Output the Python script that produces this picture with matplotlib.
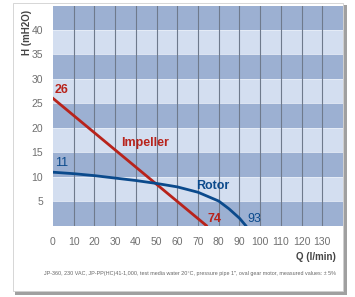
import numpy as np
from matplotlib import pyplot as plt
from matplotlib.patches import Rectangle

plt.rcParams['font.family'] = ['Liberation Sans Narrow', 'Liberation Sans', 'DejaVu Sans']

# pump curves
impeller_q = [0, 74]
impeller_h = [26, 0]
rotor_q = [0, 10, 20, 30, 40, 50, 60, 70, 80, 85, 90, 93]
rotor_h = [10.9, 10.6, 10.2, 9.7, 9.2, 8.6, 7.9, 6.8, 5.0, 3.4, 1.5, 0]

x_ticks = list(range(0, 140, 10))
y_ticks = [5, 10, 15, 20, 25, 30, 35, 40]
footnote = ("JP-360, 230 VAC, JP-PP(HC)41-1,000, test media water 20°C, "
            "pressure pipe 1\", oval gear motor, measured values: ± 5%")

red = '#b8231b'
blue = '#0b4a8c'
dark_band = '#9cb0d2'
light_band = '#d3def0'

fig = plt.figure(figsize=(3.55, 2.97), dpi=100)
fig.patch.set_facecolor('white')

# card with drop shadow
fig.patches.append(Rectangle((15 / 355, 1 - 295 / 297), 332 / 355, 290 / 297,
                             transform=fig.transFigure, facecolor='#a0a0a0',
                             edgecolor='none', zorder=-3))
fig.patches.append(Rectangle((13 / 355, 1 - 291 / 297), 330 / 355, 288 / 297,
                             transform=fig.transFigure, facecolor='white',
                             edgecolor='#d0d0d0', linewidth=0.6, zorder=-2))

ax = fig.add_axes([53 / 355, 71.5 / 297, 290 / 355, 220 / 297])
ax.set_xlim(0, 140)
ax.set_ylim(0, 45)

for y0 in range(0, 45, 5):
    c = dark_band if (y0 // 5) % 2 == 0 else light_band
    ax.axhspan(y0, y0 + 5, color=c, lw=0, zorder=0)
    if y0 > 0:
        ax.axhline(y0, color='#e8eef8', lw=0.6, zorder=0.5)
for xv in x_ticks[1:]:
    ax.axvline(xv, color='#6f7a8c', lw=0.8, zorder=1)

ax.plot(impeller_q, impeller_h, color=red, lw=2, zorder=3)
ax.plot(rotor_q, rotor_h, color=blue, lw=2, zorder=3)

ax.text(0.6, 27.2, '26', color=red, fontsize=9, fontweight='bold', zorder=4)
ax.text(33, 16.3, 'Impeller', color=red, fontsize=9, fontweight='bold', zorder=4)
ax.text(74.5, 0.8, '74', color=red, fontsize=9, fontweight='bold', zorder=4)
ax.text(1, 12.2, '11', color=blue, fontsize=9, zorder=4)
ax.text(69, 7.4, 'Rotor', color=blue, fontsize=9, fontweight='bold', zorder=4)
ax.text(94, 0.8, '93', color=blue, fontsize=9, zorder=4)

ax.set_xticks(x_ticks)
ax.set_yticks(y_ticks)
ax.tick_params(length=0, labelsize=7.5, labelcolor='#707070')
ax.tick_params(axis='x', pad=8)
ax.tick_params(axis='y', pad=7)
for s in ax.spines.values():
    s.set_visible(False)

fig.text(27 / 355, 1 - 32 / 297, 'H (mH2O)', rotation=90, ha='center', va='center',
         fontsize=7, fontweight='bold', color='#444444')
fig.text(336 / 355, 1 - 257 / 297, 'Q (l/min)', ha='right', va='center',
         fontsize=7, fontweight='bold', color='#444444')
fig.text(190 / 355, 1 - 273 / 297, footnote, ha='center', va='center',
         fontsize=3.9, color='#666666')

fig.savefig('out.png', dpi=100)
